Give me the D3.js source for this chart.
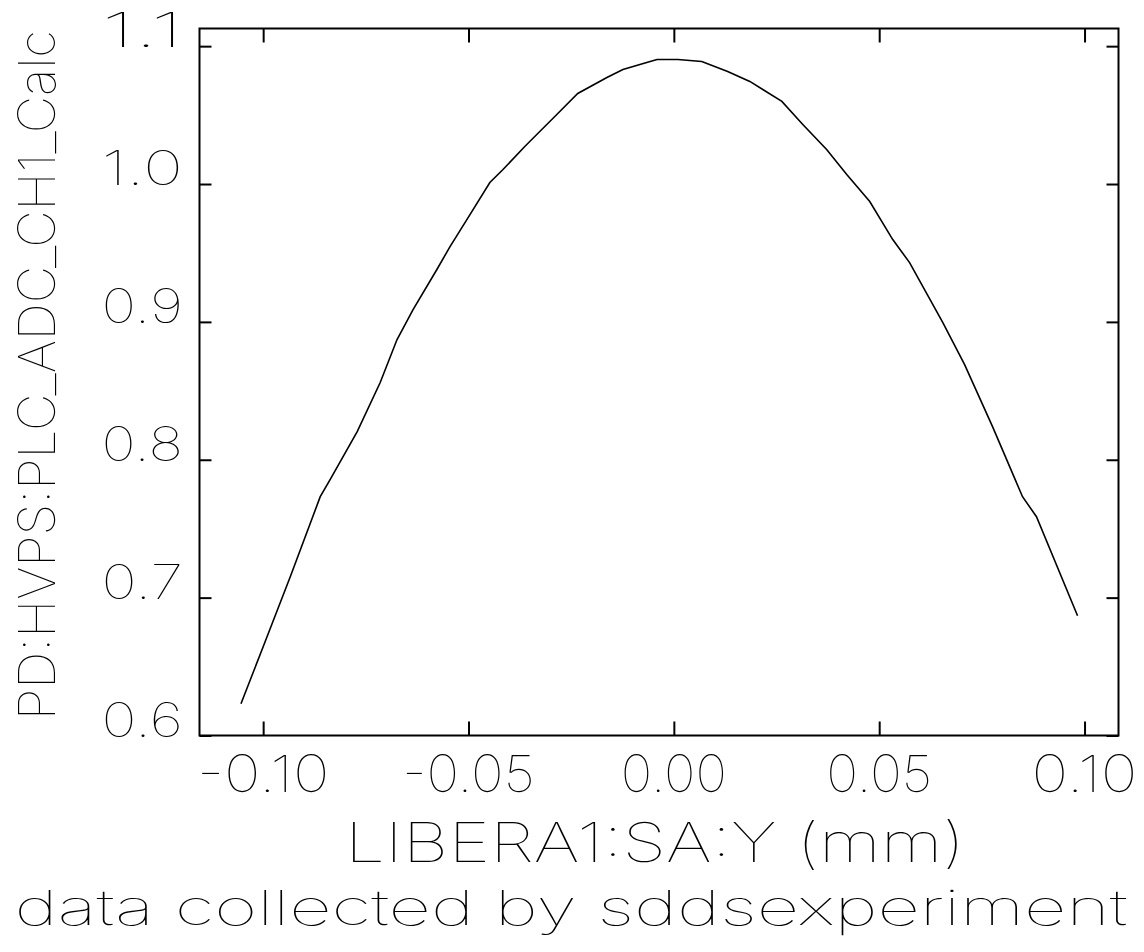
<!DOCTYPE html>
<html>
<head>
<meta charset="utf-8">
<script src="https://cdn.jsdelivr.net/npm/d3@7"></script>
<style>
  html, body { margin: 0; padding: 0; background: #fff; }
  svg { display: block; }
  text { font-family: Inter, "DejaVu Sans", sans-serif; font-weight: 100; fill: #000; }
</style>
</head>
<body>
<svg id="chart" width="1144" height="952"></svg>
<script>
// ---- data ----
const xTitle = "LIBERA1:SA:Y (mm)";
const yTitle = "PD:HVPS:PLC_ADC_CH1_Calc";
const subTitle = "data collected by sddsexperiment";

const xTickValues = [-0.10, -0.05, 0.00, 0.05, 0.10];
const xTickLabels = ["-0.10", "-0.05", "0.00", "0.05", "0.10"];
const yTickValues = [0.6, 0.7, 0.8, 0.9, 1.0, 1.1];
const yTickLabels = ["0.6", "0.7", "0.8", "0.9", "1.0", "1.1"];

const liberaY = [
  -0.1054, -0.1000, -0.0934, -0.0861, -0.0837, -0.0771, -0.0715, -0.0674, -0.0635,
  -0.0577, -0.0545, -0.0504, -0.0448, -0.0416, -0.0363, -0.0285, -0.0234, -0.0163,
  -0.0124, -0.0066, -0.0041, 0.0010, 0.0068, 0.0131, 0.0185, 0.0263, 0.0314,
  0.0372, 0.0421, 0.0477, 0.0533, 0.0574, 0.0655, 0.0708, 0.0776, 0.0849, 0.0883, 0.0983
];
const pdCalc = [
  0.6230, 0.6644, 0.7152, 0.7732, 0.7856, 0.8204, 0.8560, 0.8872, 0.9089,
  0.9380, 0.9546, 0.9742, 1.0011, 1.0105, 1.0272, 1.0504, 1.0657, 1.0773,
  1.0831, 1.0882, 1.0903, 1.0903, 1.0889, 1.0816, 1.0744, 1.0599, 1.0432,
  1.0250, 1.0069, 0.9873, 0.9597, 0.9430, 0.8995, 0.8690, 0.8240, 0.7732, 0.7587, 0.6869
];

// ---- layout ----
const L = 199.5, R = 1118.5, T = 28.5, B = 735.5;
const x = d3.scaleLinear().domain([-0.1155, 0.10827]).range([L, R]);
const y = d3.scaleLinear().domain([0.6, 1.1128]).range([B, T]);

const svg = d3.select("#chart");

// frame
svg.append("rect")
  .attr("x", L).attr("y", T).attr("width", R - L).attr("height", B - T)
  .attr("fill", "none").attr("stroke", "#000").attr("stroke-width", 2);

// axes (ticks pointing inward on all four sides)
const axStyle = g => {
  g.select(".domain").remove();
  g.selectAll(".tick line").attr("stroke", "#000").attr("stroke-width", 2);
  g.selectAll(".tick text").remove();
};
svg.append("g").attr("transform", `translate(0,${B})`)
  .call(d3.axisBottom(x).tickValues(xTickValues).tickSize(-14)).call(axStyle);
svg.append("g").attr("transform", `translate(0,${T})`)
  .call(d3.axisTop(x).tickValues(xTickValues).tickSize(-14)).call(axStyle);
svg.append("g").attr("transform", `translate(${L},0)`)
  .call(d3.axisLeft(y).tickValues(yTickValues).tickSize(-12)).call(axStyle);
svg.append("g").attr("transform", `translate(${R},0)`)
  .call(d3.axisRight(y).tickValues(yTickValues).tickSize(-12)).call(axStyle);

// tick labels
const charW = 26.5;
svg.append("g").selectAll("text").data(xTickValues).join("text")
  .attr("x", d => x(d)).attr("y", 792)
  .attr("text-anchor", "middle")
  .attr("font-size", 51)
  .attr("textLength", (d, i) => charW * xTickLabels[i].length)
  .attr("lengthAdjust", "spacingAndGlyphs")
  .text((d, i) => xTickLabels[i]);

svg.append("g").selectAll("text").data(yTickValues).join("text")
  .attr("x", 183).attr("y", d => y(d) + 1)
  .attr("text-anchor", "end")
  .attr("font-size", 48)
  .attr("textLength", (d, i) => charW * yTickLabels[i].length + 2)
  .attr("lengthAdjust", "spacingAndGlyphs")
  .text((d, i) => yTickLabels[i]);

// titles
svg.append("text")
  .attr("x", 655).attr("y", 862)
  .attr("text-anchor", "middle")
  .attr("font-size", 55)
  .attr("textLength", 620).attr("lengthAdjust", "spacingAndGlyphs")
  .text(xTitle);

svg.append("text")
  .attr("transform", "translate(55,375) rotate(-90)")
  .attr("text-anchor", "middle")
  .attr("font-size", 51)
  .attr("textLength", 690).attr("lengthAdjust", "spacingAndGlyphs")
  .text(yTitle);

svg.append("text")
  .attr("x", 571).attr("y", 925)
  .attr("text-anchor", "middle")
  .attr("font-size", 48)
  .attr("textLength", 1113).attr("lengthAdjust", "spacingAndGlyphs")
  .text(subTitle);

// curve
const pts = liberaY.map((v, i) => [v, pdCalc[i]]);
svg.append("path")
  .datum(pts)
  .attr("fill", "none").attr("stroke", "#000").attr("stroke-width", 1.6)
  .attr("d", d3.line().x(d => x(d[0])).y(d => y(d[1])));
</script>
</body>
</html>
